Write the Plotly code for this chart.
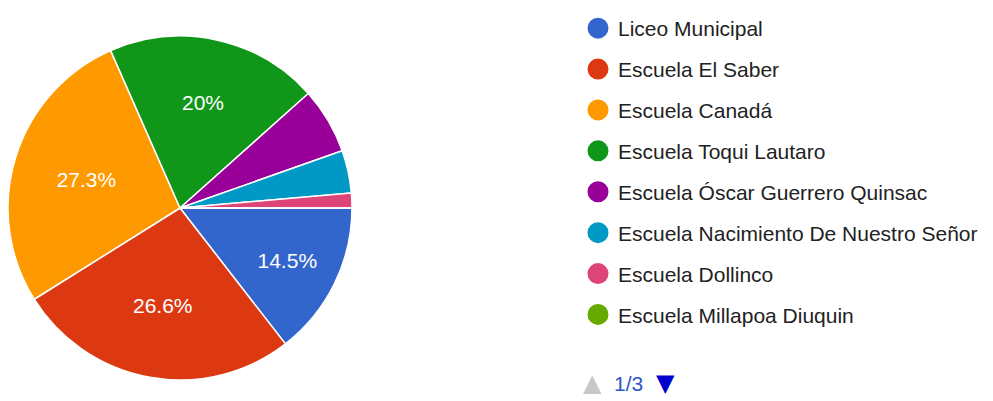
import plotly.graph_objects as go

# ---- data ----
schools = [
    "Liceo Municipal",
    "Escuela El Saber",
    "Escuela Canadá",
    "Escuela Toqui Lautaro",
    "Escuela Óscar Guerrero Quinsac",
    "Escuela Nacimiento De Nuestro Señor",
    "Escuela Dollinco",
    "Escuela Millapoa Diuquin",
]
percentages = [14.5, 26.6, 27.3, 20.0, 6.2, 4.0, 1.4, 0.0]
colors = ["#3366cc", "#dc3912", "#ff9900", "#109618",
          "#990099", "#0099c6", "#dd4477", "#66aa00"]
label_threshold = 10  # slices smaller than this have no label (as in the source)
page_text = "1/3"

# page has an 8px body margin, so the figure is 985x393 to fill the 993x401 window
W, H = 985, 393
FONT = "Liberation Sans, Arial, sans-serif"

slice_text = [(f"{v:g}%" if v >= label_threshold else "") for v in percentages]

R = 172          # pie radius in px
CY = 200         # pie centre (figure px from top)

fig = go.Figure()
fig.add_trace(go.Pie(
    labels=schools,
    values=percentages,
    marker=dict(colors=colors, line=dict(color="white", width=1.5)),
    sort=False,
    direction="clockwise",
    rotation=90,
    text=slice_text,
    textinfo="text",
    textposition="inside",
    insidetextorientation="horizontal",
    textfont=dict(family=FONT, size=21, color="white"),
    showlegend=False,
    domain=dict(x=[0, 2 * R / W], y=[(H - CY - R) / H, (H - CY + R) / H]),
))

# legend entries with round markers
for i, (name, col) in enumerate(zip(schools, colors)):
    fig.add_trace(go.Scatter(
        x=[None], y=[None], mode="markers", name=name,
        legendgroup=f"g{i}",
        marker=dict(size=16, color=col, line=dict(color=col, width=5)),
    ))

def py(px):  # figure px from top -> paper y
    return (H - px) / H

pager_y = py(375)

fig.update_layout(
    width=W, height=H,
    margin=dict(l=0, r=0, t=0, b=0),
    paper_bgcolor="white", plot_bgcolor="white",
    xaxis=dict(visible=False), yaxis=dict(visible=False),
    font=dict(family=FONT, color="#222222"),
    legend=dict(
        x=570 / W, y=1.0, xanchor="left", yanchor="top",
        font=dict(family=FONT, size=21, color="#222222"),
        tracegroupgap=10.6, bgcolor="rgba(0,0,0,0)",
        traceorder="grouped",
    ),
    annotations=[
        dict(text="▲", x=584 / W, y=pager_y, xref="paper", yref="paper",
             xanchor="center", yanchor="middle", showarrow=False,
             font=dict(family="DejaVu Sans", size=24, color="#c8c8c8")),
        dict(text=page_text, x=620 / W, y=pager_y, xref="paper", yref="paper",
             xanchor="center", yanchor="middle", showarrow=False,
             font=dict(family=FONT, size=21, color="#2a56c6")),
        dict(text="▼", x=657 / W, y=pager_y, xref="paper", yref="paper",
             xanchor="center", yanchor="middle", showarrow=False,
             font=dict(family="DejaVu Sans", size=24, color="#0000cc")),
    ],
)

fig.write_html("out.html")
